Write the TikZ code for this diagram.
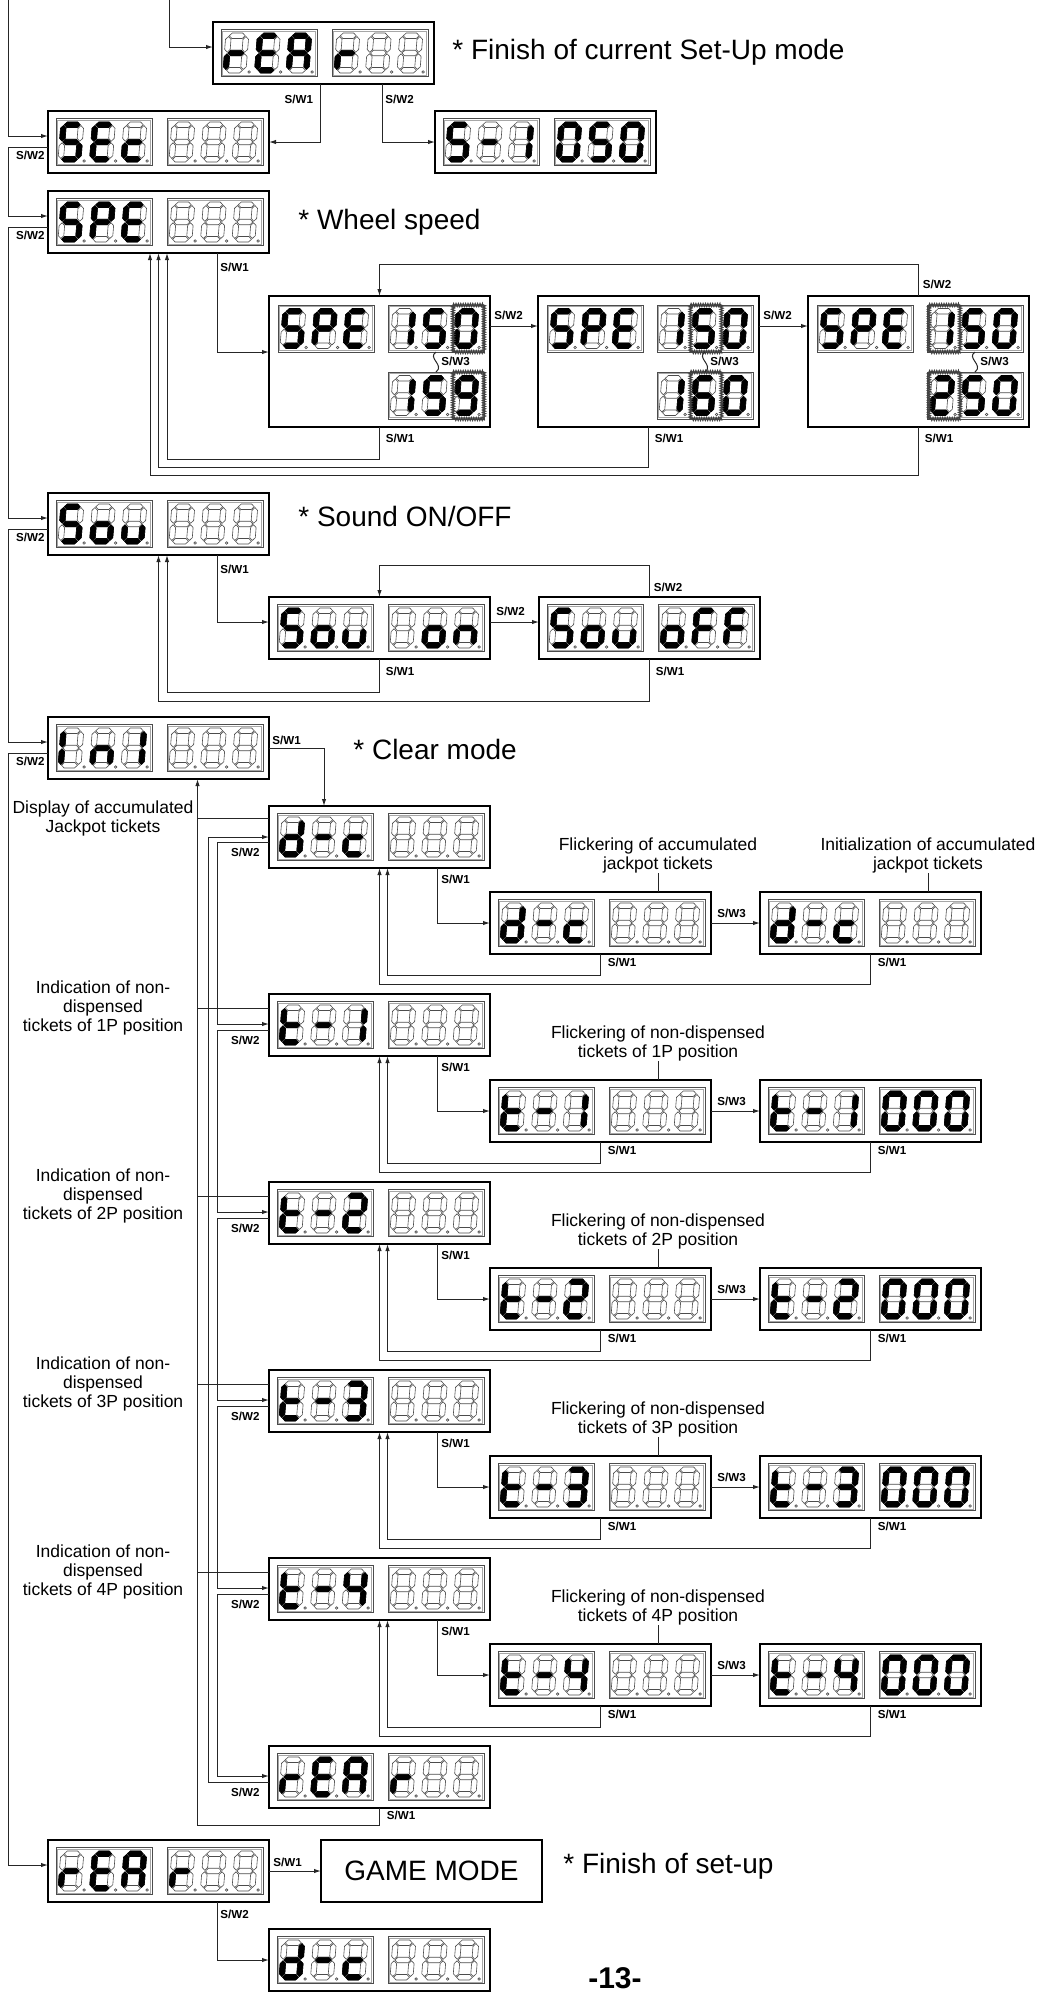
\documentclass[tikz,border=0pt]{standalone}
\usepackage{fontspec}
\setmainfont{Liberation Sans}
\usepackage{tikz}
\usetikzlibrary{arrows.meta,calc,decorations.pathmorphing}

% segments of one digit, top left at (0,0), y grows downwards
\newcommand\sgma{(3.55,2.75) -- (6.3,0) -- (16.7,0) -- (19.45,2.75) -- (16.7,5.5) -- (6.3,5.5) -- cycle}
\newcommand\sgmg{(3.55,20) -- (6.3,17.25) -- (16.7,17.25) -- (19.45,20) -- (16.7,22.75) -- (6.3,22.75) -- cycle}
\newcommand\sgmd{(3.55,37.25) -- (6.3,34.5) -- (16.7,34.5) -- (19.45,37.25) -- (16.7,40) -- (6.3,40) -- cycle}
\newcommand\sgmf{(2.75,3.55) -- (5.5,6.3) -- (5.5,16.45) -- (2.75,19.2) -- (0,16.45) -- (0,6.3) -- cycle}
\newcommand\sgmb{(20.25,3.55) -- (23,6.3) -- (23,16.45) -- (20.25,19.2) -- (17.5,16.45) -- (17.5,6.3) -- cycle}
\newcommand\sgme{(2.75,20.8) -- (5.5,23.55) -- (5.5,33.7) -- (2.75,36.45) -- (0,33.7) -- (0,23.55) -- cycle}
\newcommand\sgmc{(20.25,20.8) -- (23,23.55) -- (23,33.7) -- (20.25,36.45) -- (17.5,33.7) -- (17.5,23.55) -- cycle}
\newcommand\sgmz{(0,0)}

% lit segments of each glyph
\newcommand\glyS{a,f,g,c,d}
\newcommand\glyE{a,f,g,e,d}
\newcommand\glyA{a,b,c,e,f,g}
\newcommand\glyP{a,b,f,g,e}
\newcommand\glyF{a,f,g,e}
\newcommand\glyI{e,f}
\newcommand\glyr{e,g}
\newcommand\glyc{g,e,d}
\newcommand\glyo{g,c,d,e}
\newcommand\glyu{e,d,c}
\newcommand\glyn{e,g,c}
\newcommand\glyd{b,c,d,e,g}
\newcommand\glyt{f,g,e,d}
\newcommand\glyx{z}
\expandafter\def\csname gly-\endcsname{g}
\expandafter\def\csname gly0\endcsname{a,b,c,d,e,f}
\expandafter\def\csname gly1\endcsname{b,c}
\expandafter\def\csname gly2\endcsname{a,b,g,e,d}
\expandafter\def\csname gly3\endcsname{a,b,g,c,d}
\expandafter\def\csname gly4\endcsname{f,g,b,c}
\expandafter\def\csname gly5\endcsname{a,f,g,c,d}
\expandafter\def\csname gly6\endcsname{a,f,g,e,d,c}
\expandafter\def\csname gly9\endcsname{a,b,c,d,f,g}

\newcommand\dgt[2]{%
  \begin{scope}[shift={#1}, xslant=0.08]
    \foreach \s in {a,b,c,d,e,f,g} {\path[segoff] \csname sgm\s\endcsname;}
    \edef\litsegs{\csname gly#2\endcsname}%
    \foreach \s in \litsegs {\path[segon] \csname sgm\s\endcsname;}
    \path[segoff] (26.2,39) circle (1.3);
  \end{scope}}

\newcommand\dgroup[2]{%
  \begin{scope}[shift={#1}]
    \draw[grp] (0,0) rectangle (96,47);
    \draw[grp, draw=black!35] (1.5,1.5) rectangle (94.5,45.5);
    \foreach \g [count=\i from 0] in {#2} {\dgt{(5+31.5*\i,3.5)}{\g}}
  \end{scope}}

\newcommand\dispbox[4]{%
  \node[dbox, anchor=north west] (#1) at #2 {};
  \begin{scope}[shift={(#1.north west)}]
    \dgroup{(8,7.5)}{#3}
    \dgroup{(119,7.5)}{#4}
  \end{scope}}

\newcommand\speedbox[5]{%
  \node[sbox, anchor=north west] (#1) at #2 {};
  \begin{scope}[shift={(#1.north west)}]
    \dgroup{(9,9)}{S,P,E}
    \dgroup{(119,9)}{#3}
    \dgroup{(119,76)}{#4}
    \draw[flick] (121+31.5*#5,9) rectangle ++(31,47);
    \draw[flick] (121+31.5*#5,76) rectangle ++(31,47);
    \draw[conn] (167,56) .. controls (158,62) and (176,69) .. (167,76);
    \node[sw, anchor=west] at (172,65) {S/W3};
  \end{scope}}

\begin{document}
\begin{tikzpicture}[x=0.5pt, y=-0.5pt,
  dbox/.style={rectangle, draw=black, line width=1pt, minimum width=110.5pt,
               minimum height=31pt, inner sep=0pt, outer sep=0pt},
  sbox/.style={dbox, minimum height=65.5pt},
  gbox/.style={dbox, line width=0.8pt, font=\fontsize{14pt}{16pt}\selectfont},
  grp/.style={draw=black!70, line width=0.4pt},
  segoff/.style={draw=black!70, line width=0.3pt},
  segon/.style={draw=black, line width=0.3pt, fill=black},
  flick/.style={draw=black!75, line width=0.6pt, decorate,
                decoration={zigzag, amplitude=0.7pt, segment length=1.2pt}},
  conn/.style={draw=black!85, line width=0.5pt},
  arr/.style={conn, -{Latex[length=3.5pt,width=2.2pt]}},
  lead/.style={draw=black!85, line width=0.45pt},
  sw/.style={font=\fontsize{5.8pt}{6pt}\selectfont\bfseries, inner sep=0pt},
  note/.style={font=\fontsize{14pt}{16pt}\selectfont, inner sep=0pt, anchor=west},
  desc/.style={font=\fontsize{8.75pt}{9.5pt}\selectfont, align=center, inner sep=0pt}
]
\useasboundingbox (0,0) rectangle (1048,1999);

% top
\coordinate (inA) at (8,0);
\coordinate (inB) at (169,0);
\dispbox{rear1}{(213,22)}{r,E,A}{r,x,x}
\dispbox{sec}{(48,111)}{S,E,c}{x,x,x}
\dispbox{sset}{(435,111)}{S,-,1}{0,5,0}
\node[note] at (452,52) {* Finish of current Set-Up mode};
\draw[arr] (inB) |- ($(rear1.north west)+(0,25)$);
\draw[arr] (inA) |- ($(sec.north west)+(0,25)$);
\draw[arr] ($(rear1.south)+(-3,0)$) |- ($(sec.north east)+(0,31)$);
\draw[arr] ($(rear1.south west)+(169,0)$) |- ($(sset.north west)+(0,31)$);
\node[sw, anchor=north east] at ($(rear1.south)+(-10,11)$) {S/W1};
\node[sw, anchor=north west] at ($(rear1.south west)+(172,11)$) {S/W2};

% wheel speed
\dispbox{spe}{(48,191)}{S,P,E}{x,x,x}
\node[note] at (298,222) {* Wheel speed};
\speedbox{spd1}{(269,296)}{1,5,0}{1,5,9}{2}
\speedbox{spd2}{(538,296)}{1,5,0}{1,6,0}{1}
\speedbox{spd3}{(808,296)}{1,5,0}{2,5,0}{0}
\draw[arr] ($(spe.south west)+(169,0)$) |- ($(spd1.north west)+(0,56)$);
\node[sw, anchor=north west] at ($(spe.south west)+(172,10)$) {S/W1};
\foreach \a/\b in {spd1/spd2, spd2/spd3} {
  \draw[arr] ($(\a.north east)+(0,30)$) -- ($(\b.north west)+(0,30)$);
  \node[sw, anchor=south west] at ($(\a.north east)+(4,24)$) {S/W2};
}
\draw[arr] (spd3.north) -- ++(0,-32) -| (spd1.north);
\node[sw, anchor=south west] at ($(spd3.north)+(4,-7)$) {S/W2};
\draw[arr] (spd1.south) -- ++(0,32) -| ($(spe.south)+(8.5,0)$);
\draw[arr] (spd2.south) -- ++(0,40) -| (spe.south);
\draw[arr] (spd3.south) -- ++(0,48) -| ($(spe.south)+(-8.5,0)$);
\foreach \b in {spd1,spd2,spd3}
  \node[sw, anchor=north west] at ($(\b.south)+(6,7)$) {S/W1};

% sound
\dispbox{sou}{(48,493)}{S,o,u}{x,x,x}
\node[note] at (298,516) {* Sound ON/OFF};
\dispbox{son}{(269,597)}{S,o,u}{x,o,n}
\dispbox{soff}{(539,597)}{S,o,u}{o,F,F}
\draw[arr] ($(sou.south west)+(169,0)$) |- ($(son.north west)+(0,25)$);
\node[sw, anchor=north west] at ($(sou.south west)+(172,10)$) {S/W1};
\draw[arr] ($(son.north east)+(0,25)$) -- ($(soff.north west)+(0,25)$);
\node[sw, anchor=south west] at ($(son.north east)+(6,19)$) {S/W2};
\draw[arr] (soff.north) -- ++(0,-32) -| (son.north);
\node[sw, anchor=south west] at ($(soff.north)+(4,-5)$) {S/W2};
\draw[arr] (son.south) -- ++(0,33) -| ($(sou.south)+(8.5,0)$);
\draw[arr] (soff.south) -- ++(0,42) -| (sou.south);
\foreach \b in {son,soff}
  \node[sw, anchor=north west] at ($(\b.south)+(6,8)$) {S/W1};

% clear mode
\dispbox{ini}{(48,717)}{I,n,1}{x,x,x}
\node[note] at (353,749) {* Clear mode};
\dispbox{dc}{(269,806)}{d,-,c}{x,x,x}
\dispbox{fdc}{(490,892)}{d,-,c}{x,x,x}
\dispbox{idc}{(760,892)}{d,-,c}{x,x,x}
\dispbox{t1}{(269,994)}{t,-,1}{x,x,x}
\dispbox{ft1}{(490,1080)}{t,-,1}{x,x,x}
\dispbox{it1}{(760,1080)}{t,-,1}{0,0,0}
\dispbox{t2}{(269,1182)}{t,-,2}{x,x,x}
\dispbox{ft2}{(490,1268)}{t,-,2}{x,x,x}
\dispbox{it2}{(760,1268)}{t,-,2}{0,0,0}
\dispbox{t3}{(269,1370)}{t,-,3}{x,x,x}
\dispbox{ft3}{(490,1456)}{t,-,3}{x,x,x}
\dispbox{it3}{(760,1456)}{t,-,3}{0,0,0}
\dispbox{t4}{(269,1558)}{t,-,4}{x,x,x}
\dispbox{ft4}{(490,1644)}{t,-,4}{x,x,x}
\dispbox{it4}{(760,1644)}{t,-,4}{0,0,0}
\dispbox{rearc}{(269,1746)}{r,E,A}{r,x,x}
\draw[arr] (ini.east) -| ($(dc.north west)+(55,0)$);
\node[sw, anchor=south west] at ($(ini.east)+(3,-3)$) {S/W1};
\coordinate (retx) at ($(ini.south)+(39,0)$);
\draw[arr] (rearc.south) -- ++(0,17) -| (retx);
\node[sw, anchor=north west] at ($(rearc.south)+(7,3)$) {S/W1};
\draw[arr] ($(rearc.north west)+(0,36)$) -- ++(-61,0) |- ($(dc.north west)+(0,31)$);
\foreach \a/\b in {dc/t1, t1/t2, t2/t3, t3/t4, t4/rearc}
  \draw[arr] ($(\a.north west)+(0,36)$) -- ++(-52,0) |- ($(\b.north west)+(0,30)$);
\foreach \r in {dc,t1,t2,t3,t4,rearc}
  \node[sw, anchor=north east] at ($(\r.north west)+(-9,42)$) {S/W2};
\foreach \r in {dc,t1,t2,t3,t4} {
  \draw[arr] ($(\r.south west)+(168,0)$) |- (f\r.west);
  \node[sw, anchor=north west] at ($(\r.south west)+(172,7)$) {S/W1};
  \draw[arr] (f\r.east) -- (i\r.west);
  \node[sw, anchor=south west] at ($(f\r.east)+(6,-5)$) {S/W3};
  \draw[arr] (f\r.south) -- ++(0,21) -| ($(\r.south)+(8,0)$);
  \draw[arr] (i\r.south) -- ++(0,30) -| (\r.south);
  \node[sw, anchor=north west] at ($(f\r.south)+(7,4)$) {S/W1};
  \node[sw, anchor=north west] at ($(i\r.south)+(7,4)$) {S/W1};
}
\node[desc] (ldc) at (103,818) {Display of accumulated\\Jackpot tickets};
\node[desc] (lt1) at (103,1008) {Indication of non-\\dispensed\\tickets of 1P position};
\node[desc] (lt2) at (103,1196) {Indication of non-\\dispensed\\tickets of 2P position};
\node[desc] (lt3) at (103,1384) {Indication of non-\\dispensed\\tickets of 3P position};
\node[desc] (lt4) at (103,1572) {Indication of non-\\dispensed\\tickets of 4P position};
\foreach \r in {dc,t1,t2,t3,t4}
  \draw[lead] (l\r.east -| retx) -- (l\r.east -| \r.west);
\node[desc] (fldc) at ($(fdc.north west)+(168,-37)$) {Flickering of accumulated\\jackpot tickets};
\node[desc] (ildc) at ($(idc.north west)+(168,-37)$) {Initialization of accumulated\\jackpot tickets};
\node[desc] (flt1) at ($(ft1.north west)+(168,-37)$) {Flickering of non-dispensed\\tickets of 1P position};
\node[desc] (flt2) at ($(ft2.north west)+(168,-37)$) {Flickering of non-dispensed\\tickets of 2P position};
\node[desc] (flt3) at ($(ft3.north west)+(168,-37)$) {Flickering of non-dispensed\\tickets of 3P position};
\node[desc] (flt4) at ($(ft4.north west)+(168,-37)$) {Flickering of non-dispensed\\tickets of 4P position};
\foreach \r in {dc,t1,t2,t3,t4}
  \draw[lead] (fl\r.south) -- (fl\r.south |- f\r.north);
\draw[lead] (ildc.south) -- (ildc.south |- idc.north);

% main chain on the left
\dispbox{rear2}{(48,1840)}{r,E,A}{r,x,x}
\foreach \a/\b in {sec/spe, spe/sou, sou/ini, ini/rear2} {
  \draw[arr] ($(\a.north west)+(0,36)$) -- ++(-40,0) |- ($(\b.north west)+(0,25)$);
  \node[sw, anchor=north east] at ($(\a.north west)+(-3,40)$) {S/W2};
}

% end of set-up
\node[gbox, anchor=north west] (game) at (321,1840) {GAME MODE};
\dispbox{dcb}{(269,1929)}{d,-,c}{x,x,x}
\draw[arr] (rear2.east) -- (game.west);
\node[sw, anchor=south west] at ($(rear2.east)+(4,-4)$) {S/W1};
\draw[arr] ($(rear2.south west)+(169,0)$) |- (dcb.west);
\node[sw, anchor=north west] at ($(rear2.south west)+(172,8)$) {S/W2};
\node[note] at (563,1866) {* Finish of set-up};
\node[font=\fontsize{15pt}{17pt}\selectfont\bfseries, inner sep=0pt] (pgno) at (615,1978) {-13-};
\end{tikzpicture}
\end{document}
